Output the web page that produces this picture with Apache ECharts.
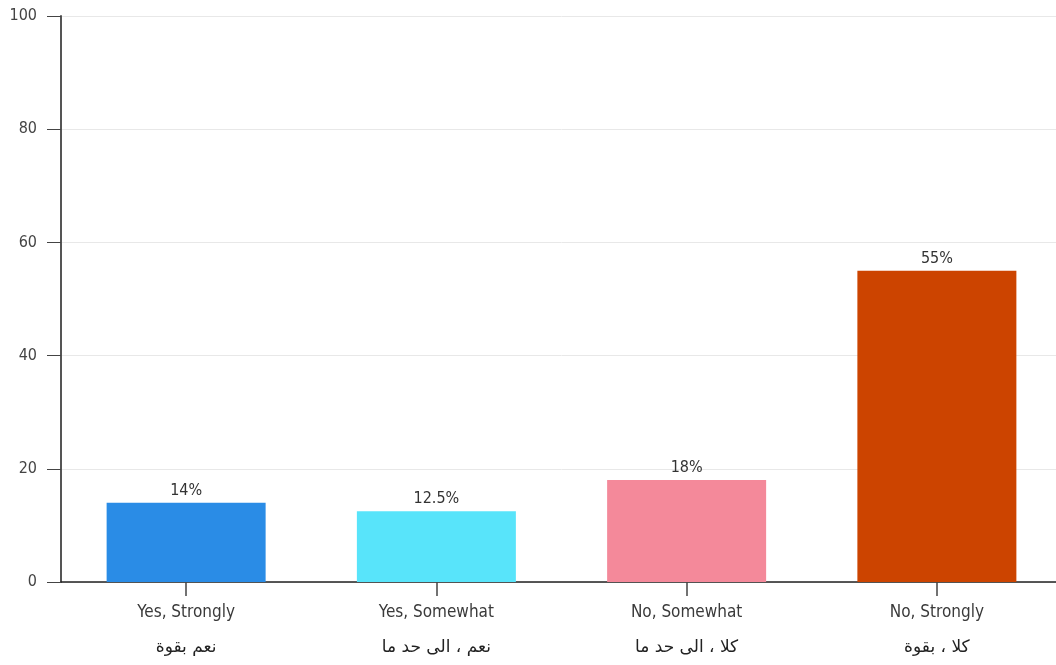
<!DOCTYPE html>
<html>
<head>
<meta charset="utf-8">
<script src="https://cdn.jsdelivr.net/npm/echarts@6/dist/echarts.min.js"></script>
<style>html,body{margin:0;padding:0;background:#fff;overflow:hidden}#c{width:1062px;height:665px}</style>
</head>
<body>
<div id="c"></div>
<script>
const categoriesEn = ["Yes, Strongly", "Yes, Somewhat", "No, Somewhat", "No, Strongly"];
const categoriesAr = ["نعم بقوة", "نعم ، الى حد ما", "كلا ، الى حد ما", "كلا ، بقوة"];
const values = [14, 12.5, 18, 55];
const valueLabels = ["14%", "12.5%", "18%", "55%"];
const colors = ["#2a8ce6", "#58e4fa", "#f4899a", "#cc4400"];
const yTicks = [0, 20, 40, 60, 80, 100];

const font = "'DejaVu Sans Condensed', 'Roboto', sans-serif";
const chart = echarts.init(document.getElementById('c'));
chart.setOption({
  animation: false,
  grid: { left: 61, top: 16, right: 0, bottom: 83, containLabel: false },
  xAxis: {
    type: 'category',
    data: categoriesEn.map((e, i) => e + '\n' + categoriesAr[i]),
    axisLine: { lineStyle: { color: '#222', width: 1.5 } },
    axisTick: { show: true, alignWithLabel: true, length: 14, lineStyle: { color: '#444', width: 1.5 } },
    axisLabel: {
      color: '#333', fontFamily: font, fontSize: 17, margin: 14,
      formatter: (v) => { const p = v.split('\n'); return '{en|' + p[0] + '}\n{ar|' + p[1] + '}'; },
      rich: {
        en: { fontFamily: font, fontSize: 17, color: '#3a3a3a', lineHeight: 34 },
        ar: { fontFamily: "'DejaVu Sans', sans-serif", fontSize: 17, color: '#222', lineHeight: 36 }
      }
    }
  },
  yAxis: {
    type: 'value', min: 0, max: 100, interval: 20,
    axisLine: { show: true, lineStyle: { color: '#555', width: 2 } },
    axisTick: { show: true, length: 14, lineStyle: { color: '#444' } },
    axisLabel: { color: '#444', fontFamily: font, fontSize: 16, margin: 24,
      formatter: (v) => yTicks.includes(v) ? String(v) : '' },
    splitLine: { lineStyle: { color: '#e8e8e8', width: 1 } }
  },
  series: [{
    type: 'bar',
    barWidth: 159,
    data: values.map((v, i) => ({ value: v, itemStyle: { color: colors[i] } })),
    label: {
      show: true, position: 'top', distance: 4,
      color: '#333', fontFamily: font, fontSize: 16,
      formatter: (p) => valueLabels[p.dataIndex]
    }
  }]
});
</script>
</body>
</html>
